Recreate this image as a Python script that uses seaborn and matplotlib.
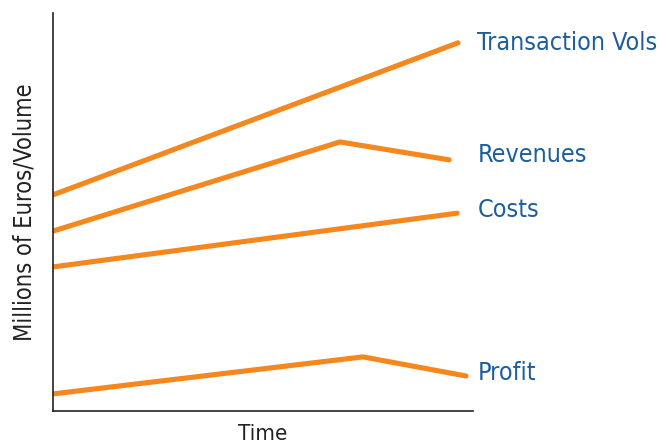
import pandas as pd
import seaborn as sns
import matplotlib.pyplot as plt

# values (arbitrary units, no ticks on chart)
series = ['Transaction Vols', 'Revenues', 'Costs', 'Profit']
trans_x = [0, 9.64]
trans_y = [54.3, 92.5]
rev_x = [0, 6.83, 9.43]
rev_y = [45.2, 67.6, 63.1]
cost_x = [0, 9.62]
cost_y = [36.2, 49.7]
prof_x = [0, 7.38, 9.83]
prof_y = [4.3, 13.6, 8.8]
label_y = [92.5, 64.3, 50.5, 9.5]

xs = [trans_x, rev_x, cost_x, prof_x]
ys = [trans_y, rev_y, cost_y, prof_y]

rows = []
for name, x, y in zip(series, xs, ys):
    for a, b in zip(x, y):
        rows.append({'series': name, 'time': a, 'value': b})
df = pd.DataFrame(rows)

sns.set_style('white')
plt.rcParams['font.family'] = ['DejaVu Sans']
plt.rcParams['font.stretch'] = 'condensed'

fig = plt.figure(figsize=(6.69, 4.43), dpi=100)
ax = fig.add_axes([0.0792, 0.0722, 0.628, 0.8985])

orange = '#f5871f'
blue = '#1d5e9b'
sns.lineplot(data=df, x='time', y='value', units='series', estimator=None,
             sort=False, color=orange, linewidth=3.7, ax=ax, legend=False)

for name, ly in zip(series, label_y):
    ax.text(10.1, ly, name, color=blue, fontsize=18, va='center', ha='left',
            stretch='condensed', clip_on=False)

ax.set_xlim(0, 10)
ax.set_ylim(0, 100)
ax.set_xticks([])
ax.set_yticks([])
sns.despine(ax=ax)
for s in ['left', 'bottom']:
    ax.spines[s].set_color('#222222')
    ax.spines[s].set_linewidth(1.2)
ax.set_xlabel('Time', fontsize=16, color='#222222', labelpad=9, stretch='condensed')
ax.set_ylabel('Millions of Euros/Volume', fontsize=17, color='#222222',
              labelpad=12, stretch='condensed')

fig.savefig('out.png', dpi=100)
